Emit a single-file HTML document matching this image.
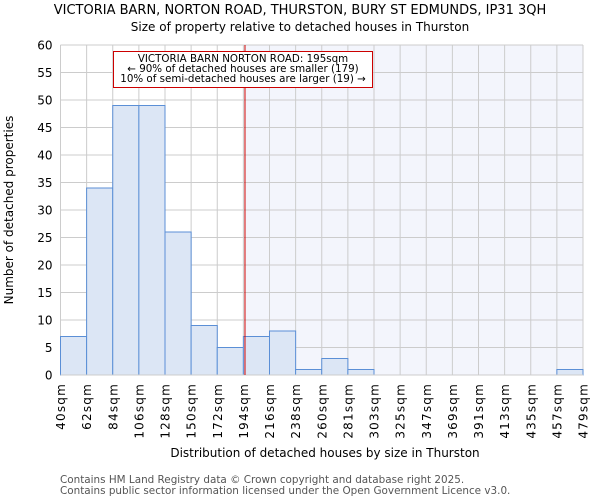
<!DOCTYPE html>
<html><head><meta charset="utf-8"><style>
body{margin:0;background:#fff;font-family:"DejaVu Sans","Liberation Sans",sans-serif}
svg text{font-family:"DejaVu Sans","Liberation Sans",sans-serif}
</style></head><body>
<svg id="chart" width="600" height="500" xmlns="http://www.w3.org/2000/svg">
<text x="300" y="14" text-anchor="middle" font-size="13" fill="#000">VICTORIA BARN, NORTON ROAD, THURSTON, BURY ST EDMUNDS, IP31 3QH</text>
<text x="300" y="31" text-anchor="middle" font-size="12" fill="#000">Size of property relative to detached houses in Thurston</text>
<g id="plot"></g>
<text x="325" y="457" text-anchor="middle" font-size="12" fill="#000">Distribution of detached houses by size in Thurston</text>
<text transform="translate(13,210) rotate(-90)" text-anchor="middle" font-size="12" fill="#000">Number of detached properties</text>
<text x="60" y="483" font-size="10.4" fill="#555">Contains HM Land Registry data © Crown copyright and database right 2025.</text>
<text x="60" y="494" font-size="10.4" fill="#555">Contains public sector information licensed under the Open Government Licence v3.0.</text>
</svg>
<script>
const binLabels=["40sqm","62sqm","84sqm","106sqm","128sqm","150sqm","172sqm","194sqm","216sqm","238sqm","260sqm","281sqm","303sqm","325sqm","347sqm","369sqm","391sqm","413sqm","435sqm","457sqm","479sqm"];
const counts=[7,34,49,49,26,9,5,7,8,1,3,1,0,0,0,0,0,0,0,1];
const yTicks=[0,5,10,15,20,25,30,35,40,45,50,55,60];
const propertySize=195;
const xMin=40,xMax=479;
const L=60.5,R=583,T=45,B=375,yMax=60;
const NS="http://www.w3.org/2000/svg";
const g=document.getElementById('plot');
const bw=(R-L)/counts.length;
const xi=i=>L+i*bw;
const xv=v=>L+(v-xMin)/(xMax-xMin)*(R-L);
const y=v=>B-v/yMax*(B-T);
function mk(t,a){const e=document.createElementNS(NS,t);for(const k in a)e.setAttribute(k,a[k]);g.appendChild(e);return e;}
const lx=xv(propertySize);
let e=mk('rect',{x:lx,y:T,width:R-lx,height:B-T,fill:'#f3f5fc'});


yTicks.forEach(t=>{
 let l=mk('line',{x1:L,x2:R,y1:y(t),y2:y(t),stroke:'#cccccc','stroke-width':1});
 
 
 let tx=mk('text',{x:L-8,y:y(t)+4.5,'text-anchor':'end','font-size':12,fill:'#000'});
 tx.textContent=t;
 
 
});
binLabels.forEach((lab,i)=>{
 let l=mk('line',{x1:xi(i),x2:xi(i),y1:T,y2:B,stroke:'#cccccc','stroke-width':1});
 
 
 let tx=mk('text',{transform:`translate(${xi(i)+4.5},${B+8}) rotate(-90)`,'text-anchor':'end','font-size':12,'letter-spacing':'1.2',fill:'#000'});
 tx.textContent=lab;
 
 
});
counts.forEach((c,i)=>{
 if(c<=0)return;
 let r=mk('rect',{x:xi(i),y:y(c),width:bw,height:B-y(c),fill:'#dce6f5',stroke:'#5b8fd6','stroke-width':1});
 
 
});
e=mk('line',{x1:L,x2:R,y1:B,y2:B,stroke:'#cccccc','stroke-width':1});


e=mk('line',{x1:lx,x2:lx,y1:T,y2:B,stroke:'#cc0000','stroke-width':1});


e=mk('rect',{x:113.5,y:51.5,width:259,height:36,fill:'#fff',stroke:'#cc0000','stroke-width':1});


["VICTORIA BARN NORTON ROAD: 195sqm","← 90% of detached houses are smaller (179)","10% of semi-detached houses are larger (19) →"].forEach((s,k)=>{
 let t=mk('text',{x:243,y:62+k*10,'text-anchor':'middle','font-size':10.3,fill:'#000'});
 t.textContent=s;
 
 
});
</script>
</body></html>
